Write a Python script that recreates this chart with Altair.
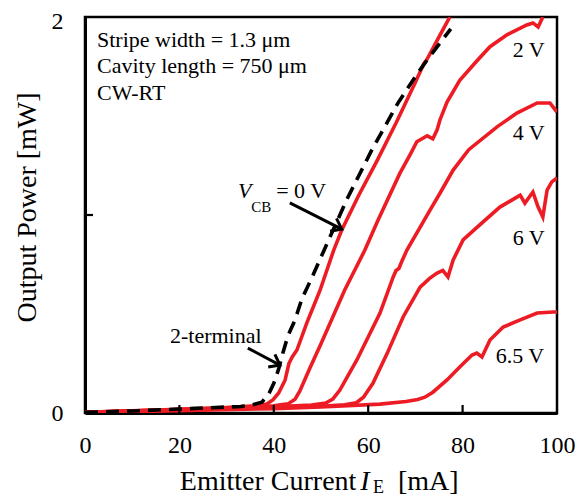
import altair as alt
import pandas as pd

RED = "#ed1c24"
FONT = "Liberation Serif"

# ---------------- data ----------------
v0_x = [0, 10, 20, 30, 36, 38.5, 39.8, 41, 42.4, 43.2, 43.9, 44.9, 47, 49.8, 52.7, 54.4, 58, 62, 66, 70, 71.8, 72.3, 73, 75, 77.3]
v0_y = [0.003, 0.011, 0.019, 0.028, 0.036, 0.045, 0.066, 0.10, 0.167, 0.25, 0.283, 0.318, 0.455, 0.62, 0.823, 0.924, 1.10, 1.28, 1.47, 1.67, 1.765, 1.78, 1.81, 1.90, 2.0]

v2_x = [0, 20, 30, 40, 43, 44.5, 45.5, 47.7, 50, 52.5, 55, 59.3, 62, 66.7, 69, 70.3, 72.5, 73.7, 74.6, 75.2, 76.7, 79.4, 83.1, 85.8, 89.4, 93.6, 94.9, 96, 97]
v2_y = [0.003, 0.018, 0.026, 0.036, 0.046, 0.07, 0.11, 0.23, 0.35, 0.485, 0.62, 0.823, 0.97, 1.21, 1.31, 1.37, 1.40, 1.385, 1.43, 1.48, 1.57, 1.68, 1.78, 1.85, 1.91, 1.96, 1.97, 1.95, 2.0]

v4_x = [0, 20, 30, 40, 48, 51, 52.5, 54, 57.6, 62.5, 65.3, 65.9, 66.5, 67.2, 68.2, 73.1, 75.2, 78, 81.3, 87.3, 91.5, 95.8, 98.5, 100]
v4_y = [0.003, 0.017, 0.024, 0.031, 0.04, 0.05, 0.07, 0.116, 0.268, 0.505, 0.687, 0.72, 0.73, 0.77, 0.823, 1.025, 1.11, 1.227, 1.33, 1.445, 1.515, 1.566, 1.566, 1.52]

v6_x = [0, 20, 40, 50, 55, 57.5, 59, 61, 64, 67.4, 71, 73, 74.6, 75.8, 76.9, 78, 80.1, 83.1, 87.9, 91.5, 92.2, 93.2, 94.9, 96, 97, 97.9, 98.9, 100]
v6_y = [0.002, 0.015, 0.026, 0.034, 0.042, 0.052, 0.08, 0.15, 0.30, 0.485, 0.636, 0.68, 0.707, 0.72, 0.687, 0.773, 0.874, 0.939, 1.04, 1.09, 1.10, 1.06, 1.116, 1.04, 0.99, 1.126, 1.167, 1.187]

v65_x = [0, 20, 40, 50, 62.5, 68, 70.5, 72, 73.7, 76.7, 79.4, 82, 83, 84.1, 85.8, 88.6, 92.2, 95.8, 99.2, 100]
v65_y = [0.002, 0.012, 0.022, 0.03, 0.045, 0.058, 0.068, 0.08, 0.105, 0.167, 0.232, 0.293, 0.303, 0.283, 0.369, 0.434, 0.47, 0.505, 0.51, 0.51]

two_x = [0, 10, 20, 30, 33, 35, 37.5, 39, 40, 41, 42, 43, 44.5, 46, 48, 50.8, 55.5, 60.8, 66.3, 70.3, 72.7, 77.5]
two_y = [0.003, 0.01, 0.02, 0.03, 0.033, 0.038, 0.055, 0.10, 0.15, 0.22, 0.31, 0.39, 0.47, 0.58, 0.68, 0.83, 1.08, 1.33, 1.565, 1.71, 1.79, 1.94]

x_tick_values = [0, 20, 40, 60, 80, 100]
y_tick_values = [0, 1, 2]
x_inner_ticks = [20, 40, 60, 80]
y_inner_ticks = [1]

# annotation texts (normal upright)
note_text = ["Stripe width = 1.3 μm", "Cavity length = 750 μm", "CW-RT",
             "2 V", "4 V", "6 V", "6.5 V", "2-terminal", "= 0 V",
             "Emitter Current", "[mA]"]
note_x = [2.54, 2.54, 2.54, 90.6, 90.6, 90.6, 87.0, 18.0, 40.5, 20.1, 66.3]
note_y = [1.848, 1.717, 1.581, 1.798, 1.379, 0.848, 0.253, 0.354, 1.086, -0.389, -0.389]
note_size = [22, 22, 22, 22, 22, 22, 22, 22, 22, 28, 28]

# italic pieces
ital_text = ["V", "I"]
ital_x = [32.4, 58.3]
ital_y = [1.086, -0.389]
ital_size = [22, 28]

# subscripts
sub_text = ["CB", "E"]
sub_x = [35.2, 61.0]
sub_y = [1.017, -0.404]
sub_size = [15, 18]

# arrows: tail -> head (data units), head angle in degrees
arr_x = [34.5, 43.4]
arr_y = [0.328, 1.061]
arr_x2 = [41.3, 54.4]
arr_y2 = [0.242, 0.929]
arr_ang = [28, 26.6]

# ---------------- build tables ----------------
rows = []
for name, xs_, ys_ in [("0 V", v0_x, v0_y), ("2 V", v2_x, v2_y), ("4 V", v4_x, v4_y),
                       ("6 V", v6_x, v6_y), ("6.5 V", v65_x, v65_y)]:
    for i, (a, b) in enumerate(zip(xs_, ys_)):
        rows.append({"x": a, "y": b, "curve": name, "idx": i})
df_red = pd.DataFrame(rows)
df_dash = pd.DataFrame({"x": two_x, "y": two_y, "idx": list(range(len(two_x)))})

xs = alt.Scale(domain=[0, 100], nice=False, zero=False)
ys = alt.Scale(domain=[0, 2], nice=False)

x_axis = alt.Axis(values=x_tick_values, title=None, grid=False, ticks=False, tickSize=0,
                  domain=True, domainColor="black", domainWidth=3,
                  labelFont=FONT, labelFontSize=24, labelColor="black", labelPadding=20,
                  format="d", labelFlush=False)
y_axis = alt.Axis(values=y_tick_values, title="Output Power [mW]", grid=False, ticks=False, tickSize=0,
                  domain=True, domainColor="black", domainWidth=3,
                  labelFont=FONT, labelFontSize=24, labelColor="black", labelPadding=22,
                  labelOffset={"condition": {"test": "datum.value == 2", "value": 4}, "value": 0},
                  format="d", labelFlush=False,
                  titleFont=FONT, titleFontSize=28, titleFontWeight="normal", titleColor="black",
                  titleAngle=270, titleBaseline="bottom", titleAlign="center",
                  titleX=-44, titleY=190)


def X(f):
    return alt.X(f, scale=xs, axis=x_axis)


def Y(f):
    return alt.Y(f, scale=ys, axis=y_axis)


red = alt.Chart(df_red).mark_line(color=RED, strokeWidth=3.6, clip=True).encode(
    x=X("x:Q"), y=Y("y:Q"), detail="curve:N", order="idx:Q")

dash = alt.Chart(df_dash).mark_line(color="black", strokeWidth=3.6, strokeDash=[13, 8], clip=True).encode(
    x=X("x:Q"), y=Y("y:Q"), order="idx:Q")

xt = alt.Chart(pd.DataFrame({"x": x_inner_ticks})).mark_rule(color="black", strokeWidth=2.2).encode(
    x=X("x:Q"), y=alt.value(396), y2=alt.value(388))
yt = alt.Chart(pd.DataFrame({"y": y_inner_ticks})).mark_rule(color="black", strokeWidth=2.2).encode(
    y=Y("y:Q"), x=alt.value(0), x2=alt.value(8))

notes = alt.Chart(pd.DataFrame({"t": note_text, "x": note_x, "y": note_y, "s": note_size})).mark_text(
    font=FONT, color="black", align="left", baseline="alphabetic").encode(
    x=X("x:Q"), y=Y("y:Q"), text="t:N", size=alt.Size("s:Q", scale=None, legend=None))

itals = alt.Chart(pd.DataFrame({"t": ital_text, "x": ital_x, "y": ital_y, "s": ital_size})).mark_text(
    font=FONT, fontStyle="italic", color="black", align="left", baseline="alphabetic").encode(
    x=X("x:Q"), y=Y("y:Q"), text="t:N", size=alt.Size("s:Q", scale=None, legend=None))

subs = alt.Chart(pd.DataFrame({"t": sub_text, "x": sub_x, "y": sub_y, "s": sub_size})).mark_text(
    font=FONT, color="black", align="left", baseline="alphabetic").encode(
    x=X("x:Q"), y=Y("y:Q"), text="t:N", size=alt.Size("s:Q", scale=None, legend=None))

df_arr = pd.DataFrame({"x": arr_x, "y": arr_y, "x2": arr_x2, "y2": arr_y2, "a": arr_ang})
shafts = alt.Chart(df_arr).mark_rule(color="black", strokeWidth=3).encode(
    x=X("x:Q"), y=Y("y:Q"), x2="x2:Q", y2="y2:Q")
heads = alt.Chart(df_arr).mark_point(shape="M-1,-0.75L0,0L-1,0.75", filled=False, color="black",
                                     strokeWidth=3, size=360, opacity=1).encode(
    x=X("x2:Q"), y=Y("y2:Q"), angle=alt.Angle("a:Q", scale=None))

chart = alt.layer(red, dash, xt, yt, notes, itals, subs, shafts, heads).properties(
    width=472, height=396,
    autosize=alt.AutoSizeParams(type="none"),
    padding={"left": 77, "top": 9, "right": 22, "bottom": 87},
    background="white",
).configure_view(stroke="black", strokeWidth=2.5)

chart.save("out.html", embed_options={"renderer": "svg", "actions": False})
